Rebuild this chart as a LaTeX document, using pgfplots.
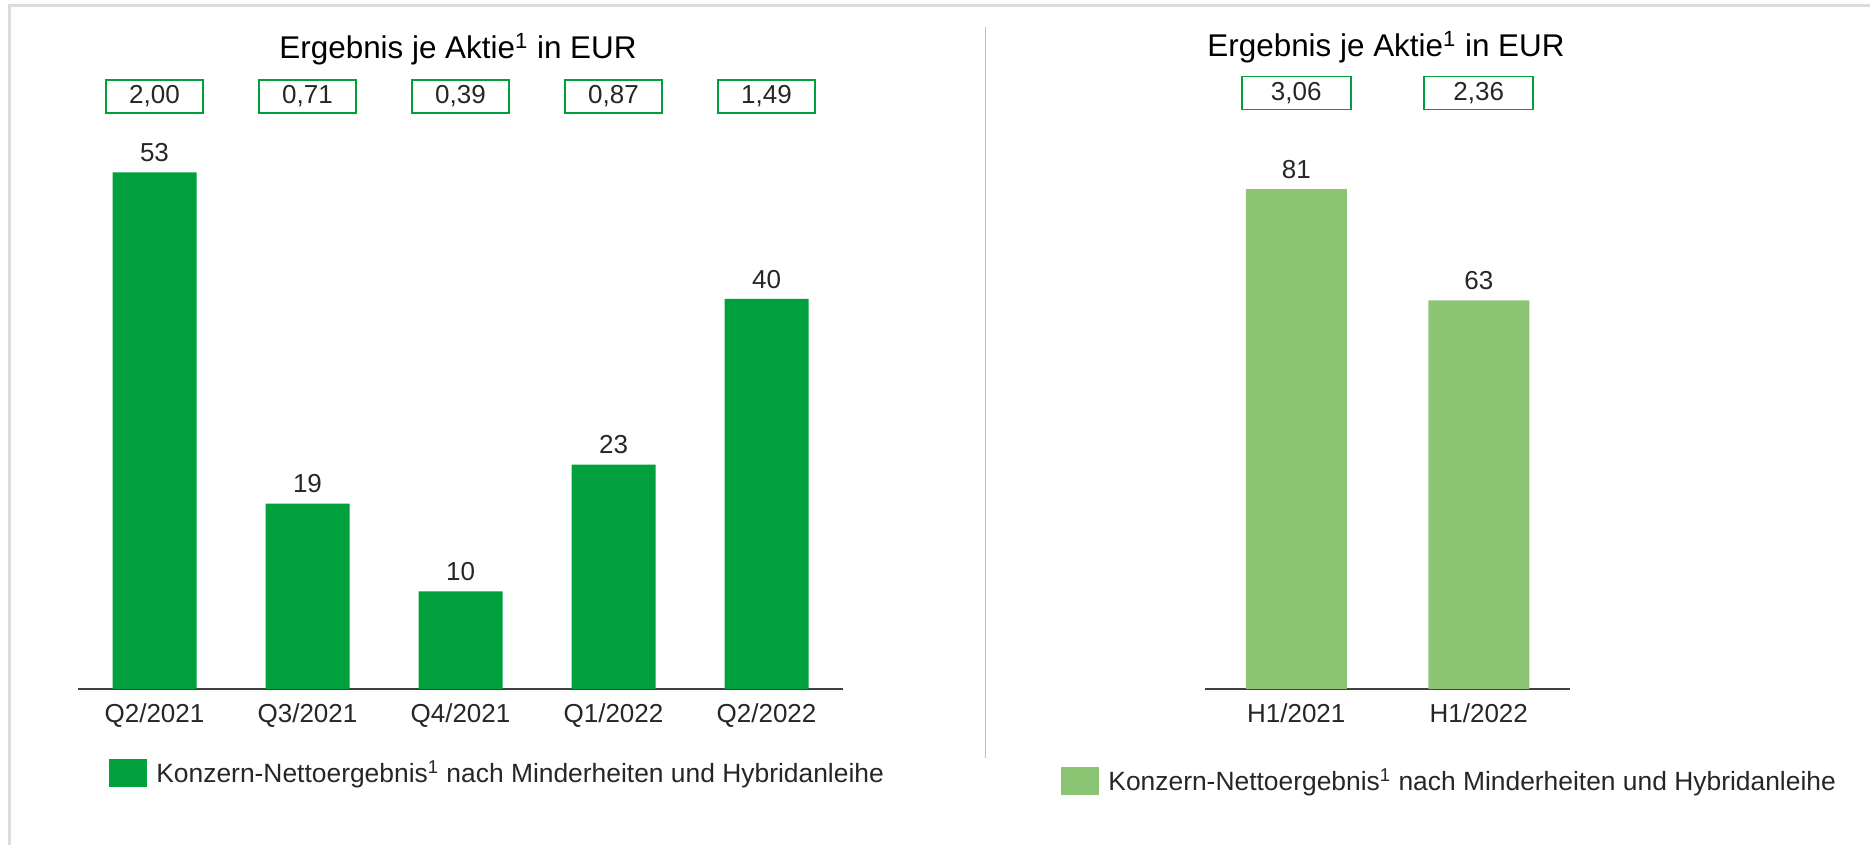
\documentclass[border=0pt]{standalone}
\usepackage{fontspec}
\setmainfont{Liberation Sans}
\usepackage{pgfplots}
\pgfplotsset{compat=1.18}

\definecolor{darkgreen}{HTML}{00A03C}
\definecolor{lightgreen}{HTML}{8BC473}
\definecolor{boxgreen}{HTML}{00A03C}
\definecolor{txt}{HTML}{262626}
\definecolor{framegray}{HTML}{DCDCDC}
\definecolor{dividergray}{HTML}{BFBFBF}

\newcommand{\smallfont}{\fontsize{13}{15}\selectfont}
\newcommand{\legendfont}{\fontsize{13.2}{15}\selectfont}
\newcommand{\titlefont}{\fontsize{15.7}{18}\selectfont}

\pgfplotsset{
  epschart/.style={
    scale only axis, anchor=south west, clip=false,
    ymin=0, hide y axis, axis x line*=bottom,
    x axis line style={-, line width=1pt, draw=black!75},
    major tick length=0pt,
    xticklabel style={font=\smallfont, text=txt, yshift=-3.8pt},
    legend style={draw=none, fill=none, inner sep=0pt, font=\legendfont, text=txt, anchor=west,
      /tikz/every odd column/.append style={column sep=2.5pt}},
    legend cell align=left,
  },
  barvals/.style={
    ybar, draw=none, fill=#1,
    nodes near coords, point meta=explicit symbolic,
    nodes near coords style={font=\smallfont, text=txt, yshift=1.75pt},
    legend image code/.code={\fill[#1] (0pt,-7pt) rectangle (19pt,7pt);},
  },
  epsboxes/.style={
    only marks, mark=*, mark options={draw=none, fill=none},
    nodes near coords, point meta=explicit symbolic,
    nodes near coords style={draw=boxgreen, line width=0.9pt, fill=white, text=txt,
      font=\smallfont, minimum width=#1, minimum height=16.5pt, inner sep=0pt, anchor=center},
  },
}

\begin{document}
\begin{tikzpicture}
% frame and divider
\draw[framegray, line width=1.5pt] (4.65pt,419.85pt) -- (935pt,419.85pt);
\draw[framegray, line width=1.3pt] (4.65pt,420.6pt) -- (4.65pt,0pt);
\draw[dividergray, line width=0.75pt] (492.75pt,409pt) -- (492.75pt,43.5pt);

% titles
\node[anchor=base, text=black, font=\titlefont, inner sep=0pt] at (229pt,393pt) {Ergebnis je Aktie\textsuperscript{1} in EUR};
\node[anchor=base, text=black, font=\titlefont, inner sep=0pt] at (693pt,394pt) {Ergebnis je Aktie\textsuperscript{1} in EUR};

% quarters
\begin{axis}[epschart,
  at={(39pt,78pt)}, width=382.5pt, height=292.5pt,
  xmin=-0.5, xmax=4.5, ymax=60,
  xtick={0,1,2,3,4},
  xticklabels={Q2/2021,Q3/2021,Q4/2021,Q1/2022,Q2/2022},
  legend style={at={(0.0405,-0.1436)}},
]
\addplot[barvals=darkgreen, bar width=42pt] coordinates {
  (0,53) [53] (1,19) [19] (2,10) [10] (3,23) [23] (4,40) [40]
};
\addlegendentry{Konzern-Nettoergebnis\textsuperscript{1} nach Minderheiten und Hybridanleihe}
\addplot[epsboxes=48.75pt] coordinates {
  (0,60.77) [2,00] (1,60.77) [0,71] (2,60.77) [0,39] (3,60.77) [0,87] (4,60.77) [1,49]
};
\end{axis}

% half years
\begin{axis}[epschart,
  at={(602.5pt,78pt)}, width=182.5pt, height=308.5pt,
  xmin=-0.5, xmax=1.5, ymax=100,
  xtick={0,1},
  xticklabels={H1/2021,H1/2022},
  legend style={at={(-0.3945,-0.149)}},
]
\addplot[barvals=lightgreen, bar width=50.5pt] coordinates {
  (0,81) [81] (1,63) [63]
};
\addlegendentry{Konzern-Nettoergebnis\textsuperscript{1} nach Minderheiten und Hybridanleihe}
\addplot[epsboxes=54.5pt] coordinates {
  (0,96.6) [3,06] (1,96.6) [2,36]
};
\end{axis}

\pgfresetboundingbox
\useasboundingbox (0pt,0pt) rectangle (935pt,422.5pt);
\end{tikzpicture}
\end{document}
